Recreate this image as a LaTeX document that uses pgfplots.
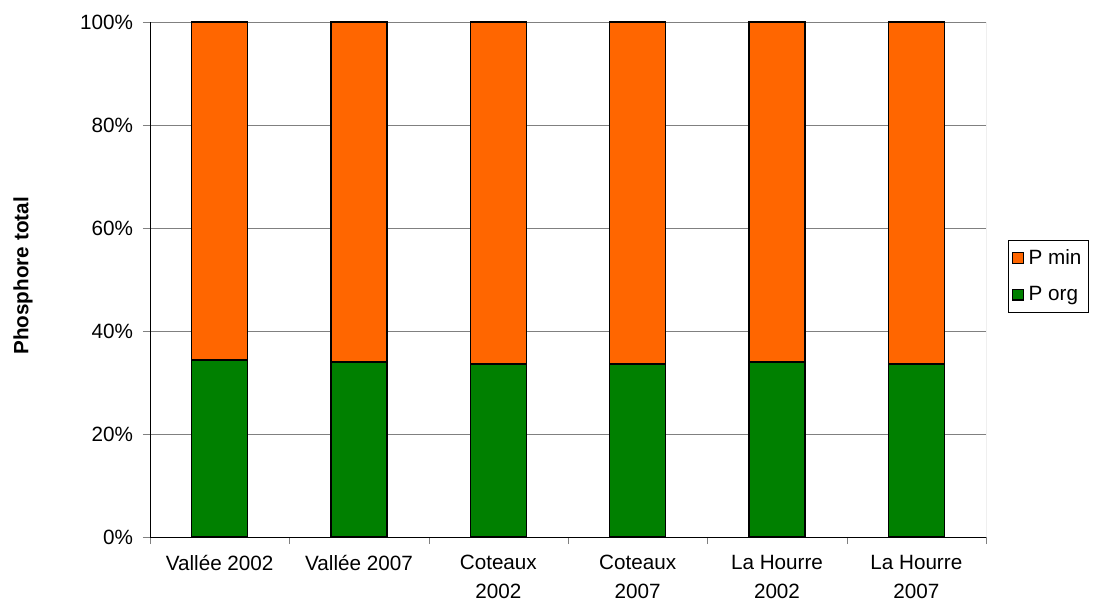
\documentclass[border=0pt]{standalone}
\usepackage{pgfplots}
\pgfplotsset{compat=1.18}
\usepackage{fontspec}
\setmainfont{Liberation Sans}
\definecolor{pmin}{HTML}{FF6600}
\definecolor{porg}{HTML}{008000}

\begin{document}
\begin{tikzpicture}
  \begin{axis}[
      at={(0,0)}, anchor=south west,
      scale only axis,
      width=627pt, height=386.25pt,
      xmin=-0.5, xmax=5.5, ymin=0, ymax=100,
      ybar stacked, bar width=0.4,
      axis x line*=bottom, axis y line*=left,
      xtick={0,...,5},
      xticklabels={Vallée 2002, Vallée 2007, {Coteaux\\2002}, {Coteaux\\2007}, {La Hourre\\2002}, {La Hourre\\2007}},
      major x tick style={draw=none},
      minor xtick={-0.5,0.5,...,5.5},
      minor tick length=5.25pt, major tick length=5.25pt,
      tick align=outside,
      ytick={0,20,...,100},
      yticklabels={0\%,20\%,40\%,60\%,80\%,100\%},
      ymajorgrids=true,
      major grid style={gray, line width=0.6pt},
      every tick label/.append style={font=\fontsize{15.5}{21.5}\selectfont},
      xticklabel style={align=center, yshift=-5pt},
      yticklabel style={xshift=-4pt},
      ylabel={Phosphore total},
      ylabel style={font=\fontsize{15.5}{18}\selectfont\bfseries, at={(axis description cs:-0.152,0.507)}, anchor=center},
      legend style={at={(axis description cs:1.026,0.577)}, anchor=north west,
        draw=black, line width=0.6pt, font=\fontsize{15.5}{18}\selectfont,
        row sep=11pt, inner xsep=3pt, inner ysep=5pt},
      legend cell align=left,
      reverse legend,
      legend image code/.code={\draw[#1, draw=black, line width=0.8pt] (0pt,-4pt) rectangle (8pt,4pt);
        \path[draw=none, fill=none] (0pt,0pt) -- (10pt,0pt);},
      every axis plot/.append style={draw=black, line width=1pt},
    ]
    % P org (bas)
    \addplot[fill=porg] coordinates {(0,34.4) (1,34.0) (2,33.6) (3,33.6) (4,34.0) (5,33.6)};
    % P min (haut)
    \addplot[fill=pmin] coordinates {(0,65.6) (1,66.0) (2,66.4) (3,66.4) (4,66.0) (5,66.4)};
    \legend{P org, P min}
    \draw[gray, line width=0.6pt] (rel axis cs:1,0) -- (rel axis cs:1,1);
  \end{axis}
  \pgfresetboundingbox
  \path (-112.5pt,-50.25pt) rectangle (709.5pt,402.75pt);
\end{tikzpicture}
\end{document}
